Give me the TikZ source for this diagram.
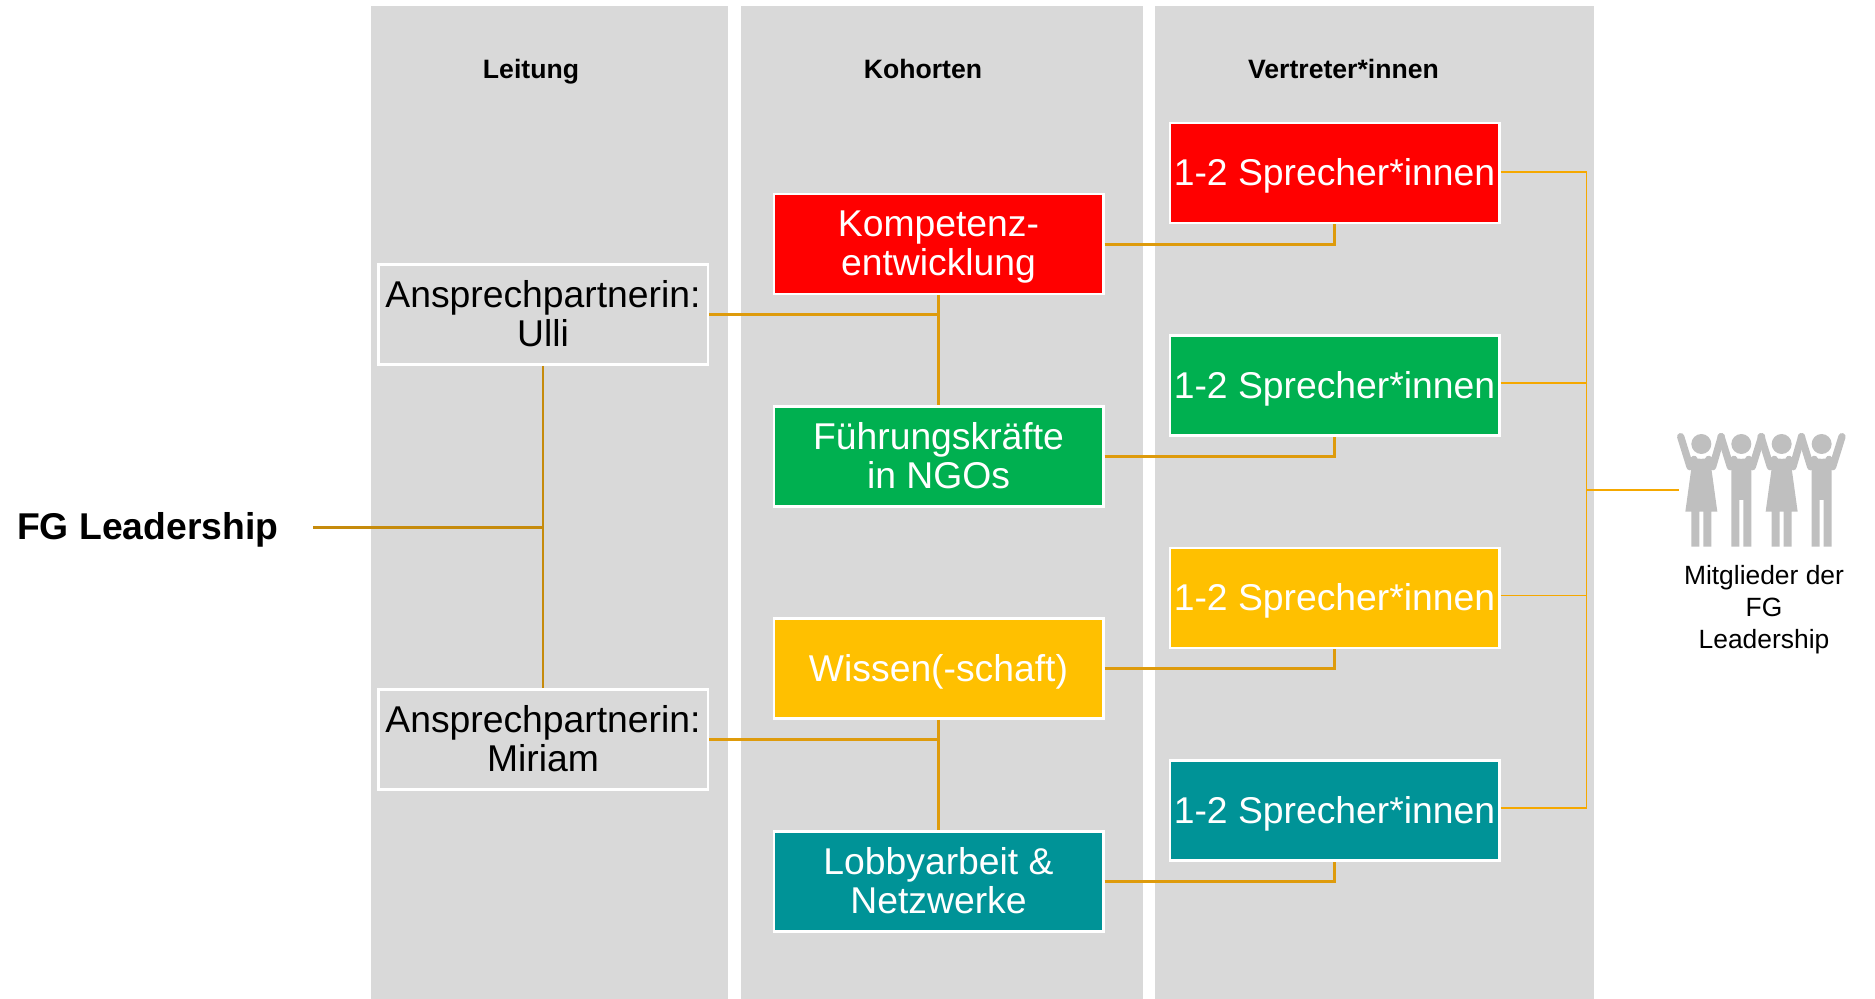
\documentclass[tikz,border=0pt]{standalone}
\usepackage{fontspec}
\setmainfont{Liberation Sans}
\definecolor{panel}{HTML}{D9D9D9}
\definecolor{cred}{HTML}{FF0000}
\definecolor{cgreen}{HTML}{00B050}
\definecolor{cyellow}{HTML}{FFC000}
\definecolor{cteal}{HTML}{009397}
\definecolor{linedark}{HTML}{C68B0C}
\definecolor{linemid}{HTML}{DE9B0C}
\definecolor{linethin}{HTML}{F5A800}
\definecolor{figgrey}{HTML}{BFBFBF}
\tikzset{
  panelrect/.style={fill=panel,draw=none},
  boxbase/.style={draw=white,line width=2.5pt,minimum width=329.5pt,minimum height=100pt,inner sep=0pt,align=center,text depth=2pt,font=\fontsize{37.3}{39}\selectfont},
  contact/.style={boxbase,fill=panel,text=black},
  cohort/.style={boxbase,text=white},
  head/.style={font=\bfseries\fontsize{26.6}{30}\selectfont,inner sep=0pt},
  linkA/.style={draw=linedark,line width=3pt},
  linkAv/.style={draw=linedark,line width=2.4pt},
  linkB/.style={draw=linemid,line width=3pt},
  linkBv/.style={draw=linemid,line width=2.4pt},
  linkC/.style={draw=linethin,line width=1.4pt},
  womanfig/.pic={
    \fill[figgrey] (0,132) circle (30);
    \draw[figgrey,line width=7.3pt,line cap=round,line join=round] (-62,110) -- (-34,200) -- (-22,178);
    \draw[figgrey,line width=7.3pt,line cap=round,line join=round] (60,110) -- (34,200) -- (22,178);
    \fill[figgrey] (-30,172) .. controls (-10,178) and (10,178) .. (30,172) -- (30,205) -- (48,335) -- (30,335) -- (30,440) -- (6,440) -- (6,335) -- (-6,335) -- (-6,440) -- (-30,440) -- (-30,335) -- (-48,335) -- (-30,205) -- cycle;
  },
  manfig/.pic={
    \fill[figgrey] (0,132) circle (30);
    \draw[figgrey,line width=7.3pt,line cap=round,line join=round] (-61,110) -- (-33,200) -- (-22,178);
    \draw[figgrey,line width=7.3pt,line cap=round,line join=round] (61,110) -- (33,200) -- (22,178);
    \fill[figgrey] (-30,172) .. controls (-10,178) and (10,178) .. (30,172) -- (30,440) -- (6,440) -- (6,300) -- (-6,300) -- (-6,440) -- (-30,440) -- cycle;
  }
}
\begin{document}
\begin{tikzpicture}[x=1pt,y=-1pt]
\useasboundingbox (0,0) rectangle (1875,999);
\fill[panelrect] (371,6) rectangle (728,999);
\fill[panelrect] (741,6) rectangle (1143,999);
\fill[panelrect] (1155,6) rectangle (1594,999);

\node[head] (hl) at (531,71.5) {Leitung};
\node[head] (hk) at (923,69) {Kohorten};
\node[head] (hv) at (1343.5,69) {Vertreter*innen};

\node[anchor=west,inner sep=0pt,font=\bfseries\fontsize{37.3}{40}\selectfont] (fg) at (17,530) {FG Leadership};
\coordinate (fgstart) at (313,527.5);

\node[contact] (a1) at (543,314.5) {Ansprechpartnerin:\\Ulli};
\node[contact] (a2) at (543,739.5) {Ansprechpartnerin:\\Miriam};

\node[cohort,fill=cred] (k1) at (938.5,244) {Kompetenz-\\entwicklung};
\node[cohort,fill=cgreen] (k2) at (938.5,456.5) {Führungskräfte\\in NGOs};
\node[cohort,fill=cyellow] (k3) at (938.5,668.5) {Wissen(-schaft)};
\node[cohort,fill=cteal] (k4) at (938.5,881.5) {Lobbyarbeit \&\\Netzwerke};

\node[cohort,fill=cred] (s1) at (1334.5,173) {1-2 Sprecher*innen};
\node[cohort,fill=cgreen] (s2) at (1334.5,385.5) {1-2 Sprecher*innen};
\node[cohort,fill=cyellow] (s3) at (1334.5,598) {1-2 Sprecher*innen};
\node[cohort,fill=cteal] (s4) at (1334.5,810.5) {1-2 Sprecher*innen};

\draw[linkA] (fgstart) -- (fgstart -| a1.south);
\draw[linkAv] (a1.south) -- (a2.north);
\draw[linkB] (a1.east) -- (a1.east -| k1.south);
\draw[linkB] (a2.east) -- (a2.east -| k3.south);
\draw[linkBv] (k1.south) -- (k2.north);
\draw[linkBv] (k3.south) -- (k4.north);
\draw[linkB] (k1.east) -| (s1.south);
\draw[linkB] (k2.east) -| (s2.south);
\draw[linkB] (k3.east) -| (s3.south);
\draw[linkB] (k4.east) -| (s4.south);

\coordinate (bus) at (1586.5,490);
\coordinate (crowd) at (1679,490);
\draw[linkC] ([yshift=1pt]s1.east) -| (bus);
\draw[linkC] ([yshift=2.5pt]s2.east) -- ([yshift=2.5pt]s2.east -| bus);
\draw[linkC] ([yshift=2.5pt]s3.east) -- ([yshift=2.5pt]s3.east -| bus);
\draw[linkC] ([yshift=2.5pt]s4.east) -| (bus);
\draw[linkC] (bus) -- (crowd);

\begin{scope}[shift={(1640,400)},x=0.3333pt,y=-0.3333pt]
  \pic at (184,0) {womanfig};
  \pic at (304,0) {manfig};
  \pic at (425,0) {womanfig};
  \pic at (545,0) {manfig};
\end{scope}

\node[align=center,inner sep=0pt,font=\fontsize{26.4}{32}\selectfont] (mt) at (1764,609.5) {Mitglieder der\\FG\\Leadership};
\end{tikzpicture}
\end{document}
